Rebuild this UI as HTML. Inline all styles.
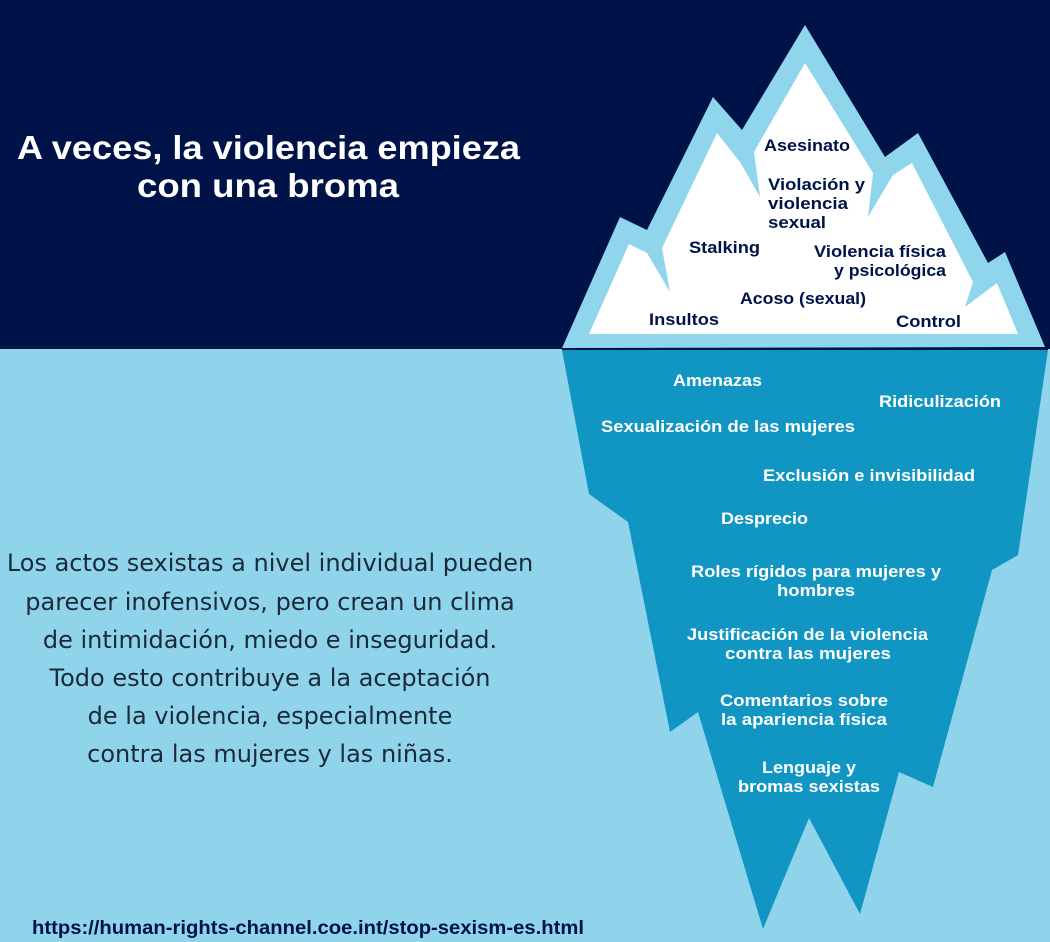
<!DOCTYPE html>
<html><head><meta charset="utf-8"><style>
body{margin:0;width:1050px;height:942px;overflow:hidden;font-family:"Liberation Sans","DejaVu Sans",sans-serif;}
.wrap{position:relative;width:1050px;height:942px;background:#90d4ec;}
.top{position:absolute;left:0;top:0;width:1050px;height:349px;background:#001349;}
svg{position:absolute;left:0;top:0;}
.t{font-family:"Liberation Sans",sans-serif;font-weight:bold;}
</style></head><body><div class="wrap">
<div class="top"></div>
<svg width="1050" height="942" viewBox="0 0 1050 942">
<polygon fill="#8fd5ec" points="562,348 620,217 647,230 713,97 742,130 805,25 885,157 918,133 988,263 1005,252 1045,347"/>
<polygon fill="#ffffff" points="589,334 629,244 647,253 670,292 662,248 717,133 740,162 760,197 754,152 805,63 873,173 868,217 893,175 912,163 973,282 965,307 997,283 1018,334"/>
<polygon fill="#1195c3" points="562,350 1048,350 1018,555 992,570 933,787 899,772 860,914 809,818 763,929 698,712 670,732 628,522 589,494"/>
<line x1="562" y1="349" x2="1048" y2="349" stroke="#001349" stroke-width="2"/>
<text x="17" y="159" fill="#fff" font-size="33" class="t" textLength="503" lengthAdjust="spacingAndGlyphs">A veces, la violencia empieza</text>
<text x="137" y="197" fill="#fff" font-size="33" class="t" textLength="262" lengthAdjust="spacingAndGlyphs">con una broma</text>
<g fill="#001349" font-size="17" class="t" lengthAdjust="spacingAndGlyphs">
<text x="764" y="151" textLength="86" lengthAdjust="spacingAndGlyphs">Asesinato</text>
<text x="768" y="190" textLength="97" lengthAdjust="spacingAndGlyphs">Violación y</text>
<text x="768" y="209" textLength="80" lengthAdjust="spacingAndGlyphs">violencia</text>
<text x="768" y="228" textLength="58" lengthAdjust="spacingAndGlyphs">sexual</text>
<text x="689" y="253" textLength="71" lengthAdjust="spacingAndGlyphs">Stalking</text>
<text x="814" y="257" textLength="132" lengthAdjust="spacingAndGlyphs">Violencia física</text>
<text x="834" y="276" textLength="112" lengthAdjust="spacingAndGlyphs">y psicológica</text>
<text x="740" y="304" textLength="126" lengthAdjust="spacingAndGlyphs">Acoso (sexual)</text>
<text x="649" y="325" textLength="70" lengthAdjust="spacingAndGlyphs">Insultos</text>
<text x="896" y="327" textLength="65" lengthAdjust="spacingAndGlyphs">Control</text>
</g>
<g fill="#fff" font-size="17" class="t">
<text x="673" y="386" textLength="89" lengthAdjust="spacingAndGlyphs">Amenazas</text>
<text x="879" y="407" textLength="122" lengthAdjust="spacingAndGlyphs">Ridiculización</text>
<text x="601" y="432" textLength="254" lengthAdjust="spacingAndGlyphs">Sexualización de las mujeres</text>
<text x="763" y="481" textLength="212" lengthAdjust="spacingAndGlyphs">Exclusión e invisibilidad</text>
<text x="721" y="524" textLength="87" lengthAdjust="spacingAndGlyphs">Desprecio</text>
<text x="691" y="577" textLength="250" lengthAdjust="spacingAndGlyphs">Roles rígidos para mujeres y</text>
<text x="777" y="596" textLength="78" lengthAdjust="spacingAndGlyphs">hombres</text>
<text x="687" y="640" textLength="241" lengthAdjust="spacingAndGlyphs">Justificación de la violencia</text>
<text x="725" y="659" textLength="166" lengthAdjust="spacingAndGlyphs">contra las mujeres</text>
<text x="720" y="706" textLength="168" lengthAdjust="spacingAndGlyphs">Comentarios sobre</text>
<text x="721" y="725" textLength="166" lengthAdjust="spacingAndGlyphs">la apariencia física</text>
<text x="762" y="773" textLength="94" lengthAdjust="spacingAndGlyphs">Lenguaje y</text>
<text x="738" y="792" textLength="142" lengthAdjust="spacingAndGlyphs">bromas sexistas</text>
</g>
<g fill="#1a2a3a" font-size="24" text-anchor="middle" font-family="DejaVu Sans, sans-serif">
<text x="270" y="571">Los actos sexistas a nivel individual pueden</text>
<text x="270" y="610">parecer inofensivos, pero crean un clima</text>
<text x="270" y="648">de intimidación, miedo e inseguridad.</text>
<text x="270" y="686">Todo esto contribuye a la aceptación</text>
<text x="270" y="724">de la violencia, especialmente</text>
<text x="270" y="762">contra las mujeres y las niñas.</text>
</g>
<text x="32" y="934" fill="#001349" font-size="19" font-weight="bold" font-family="Liberation Sans, sans-serif" textLength="552" lengthAdjust="spacingAndGlyphs">https://human-rights-channel.coe.int/stop-sexism-es.html</text>
</svg>
</div></body></html>
